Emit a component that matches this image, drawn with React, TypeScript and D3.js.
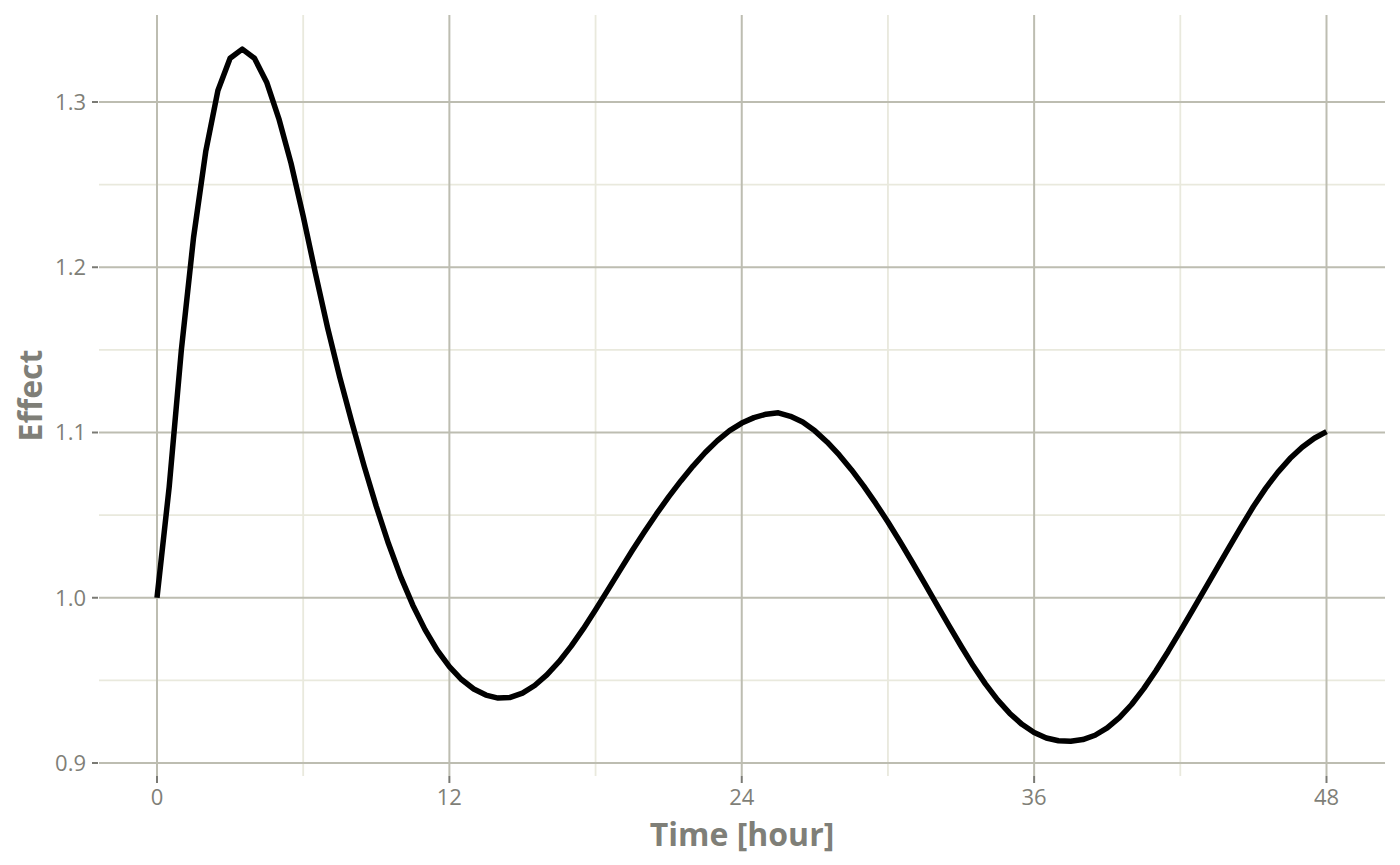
import * as d3 from "d3";

// sampled every half hour
const hours = [
  0, 0.5, 1, 1.5, 2, 2.5, 3, 3.5,
  4, 4.5, 5, 5.5, 6, 6.5, 7, 7.5,
  8, 8.5, 9, 9.5, 10, 10.5, 11, 11.5,
  12, 12.5, 13, 13.5, 14, 14.5, 15, 15.5,
  16, 16.5, 17, 17.5, 18, 18.5, 19, 19.5,
  20, 20.5, 21, 21.5, 22, 22.5, 23, 23.5,
  24, 24.5, 25, 25.5, 26, 26.5, 27, 27.5,
  28, 28.5, 29, 29.5, 30, 30.5, 31, 31.5,
  32, 32.5, 33, 33.5, 34, 34.5, 35, 35.5,
  36, 36.5, 37, 37.5, 38, 38.5, 39, 39.5,
  40, 40.5, 41, 41.5, 42, 42.5, 43, 43.5,
  44, 44.5, 45, 45.5, 46, 46.5, 47, 47.5,
  48,
];

const effect = [
  1.0, 1.067, 1.15, 1.218, 1.27, 1.307, 1.3265, 1.332,
  1.3265, 1.312, 1.29, 1.263, 1.231, 1.1965, 1.1635, 1.1335,
  1.106, 1.0798, 1.0553, 1.0328, 1.0128, 0.9955, 0.9807, 0.9683,
  0.9583, 0.9505, 0.9448, 0.9411, 0.9393, 0.9397, 0.9423, 0.9469,
  0.9533, 0.9613, 0.9707, 0.9813, 0.9927, 1.0046, 1.0166, 1.0284,
  1.0398, 1.0507, 1.061, 1.0707, 1.0797, 1.0879, 1.0951, 1.1011,
  1.1057, 1.109, 1.1111, 1.1119, 1.1098, 1.1063, 1.101, 1.0943,
  1.0864, 1.0775, 1.0677, 1.0571, 1.0458, 1.0339, 1.0215, 1.0088,
  0.996, 0.9833, 0.9708, 0.9588, 0.9479, 0.9382, 0.93, 0.9234,
  0.9184, 0.9151, 0.9135, 0.9132, 0.9142, 0.9168, 0.9212, 0.9274,
  0.9354, 0.945, 0.9558, 0.9675, 0.9798, 0.9924, 1.0051, 1.0178,
  1.0305, 1.043, 1.0552, 1.0662, 1.0759, 1.0842, 1.0911, 1.0965,
  1.1005,
];

const xBreaks = [0, 12, 24, 36, 48];
const xMinor = [6, 18, 30, 42];
const yBreaks = [0.9, 1.0, 1.1, 1.2, 1.3];
const yMinor = [0.95, 1.05, 1.15, 1.25];
const yLabels = ["0.9", "1.0", "1.1", "1.2", "1.3"];

const W = 1400;
const H = 865;
const panel = { left: 99, right: 1385, top: 15, bottom: 776 };

const majorCol = "#bdbdb1";
const minorCol = "#e9e9dd";
const textCol = "#7f7f78";
const font = "'Open Sans', sans-serif";

export default function App() {
  const x = d3.scaleLinear().domain([0, 48]).range([157, 1326.5]);
  const y = d3.scaleLinear().domain([0.9, 1.3]).range([763, 102]);

  const pts = hours.map((h, i) => [h, effect[i]] as [number, number]);
  const line = d3
    .line<[number, number]>()
    .x((d) => x(d[0]))
    .y((d) => y(d[1]));

  return (
    <svg
      width={W}
      height={H}
      style={{ position: "absolute", left: 0, top: 0, background: "#fff" }}
    >
      {/* minor grid */}
      {yMinor.map((v) => (
        <line
          key={"ym" + v}
          x1={panel.left}
          x2={panel.right}
          y1={y(v)}
          y2={y(v)}
          stroke={minorCol}
          strokeWidth={1.8}
        />
      ))}
      {xMinor.map((v) => (
        <line
          key={"xm" + v}
          x1={x(v)}
          x2={x(v)}
          y1={panel.top}
          y2={panel.bottom}
          stroke={minorCol}
          strokeWidth={1.8}
        />
      ))}
      {/* major grid */}
      {yBreaks.map((v) => (
        <line
          key={"yM" + v}
          x1={panel.left}
          x2={panel.right}
          y1={y(v)}
          y2={y(v)}
          stroke={majorCol}
          strokeWidth={2}
        />
      ))}
      {xBreaks.map((v) => (
        <line
          key={"xM" + v}
          x1={x(v)}
          x2={x(v)}
          y1={panel.top}
          y2={panel.bottom}
          stroke={majorCol}
          strokeWidth={2}
        />
      ))}

      <path
        d={line(pts) ?? ""}
        fill="none"
        stroke="#000"
        strokeWidth={5.5}
        strokeLinejoin="round"
      />

      {/* y axis */}
      {yBreaks.map((v, i) => (
        <g key={"yt" + v}>
          <line
            x1={92}
            x2={98}
            y1={y(v)}
            y2={y(v)}
            stroke="#7a7a74"
            strokeWidth={2}
          />
          <text
            x={86}
            y={y(v) + 7.8}
            textAnchor="end"
            fontFamily={font}
            fontSize={22}
            fill={textCol}
          >
            {yLabels[i]}
          </text>
        </g>
      ))}
      {/* x axis */}
      {xBreaks.map((v) => (
        <g key={"xt" + v}>
          <line
            x1={x(v)}
            x2={x(v)}
            y1={776}
            y2={783}
            stroke="#7a7a74"
            strokeWidth={2}
          />
          <text
            x={x(v)}
            y={805}
            textAnchor="middle"
            fontFamily={font}
            fontSize={22}
            fill={textCol}
          >
            {v}
          </text>
        </g>
      ))}

      <text
        x={(panel.left + panel.right) / 2}
        y={846}
        textAnchor="middle"
        fontFamily={font}
        fontSize={32}
        fontWeight="bold"
        fill={textCol}
      >
        Time [hour]
      </text>
      <text
        transform={`translate(42, ${(panel.top + panel.bottom) / 2}) rotate(-90)`}
        textAnchor="middle"
        fontFamily={font}
        fontSize={32}
        fontWeight="bold"
        fill={textCol}
      >
        Effect
      </text>
    </svg>
  );
}
